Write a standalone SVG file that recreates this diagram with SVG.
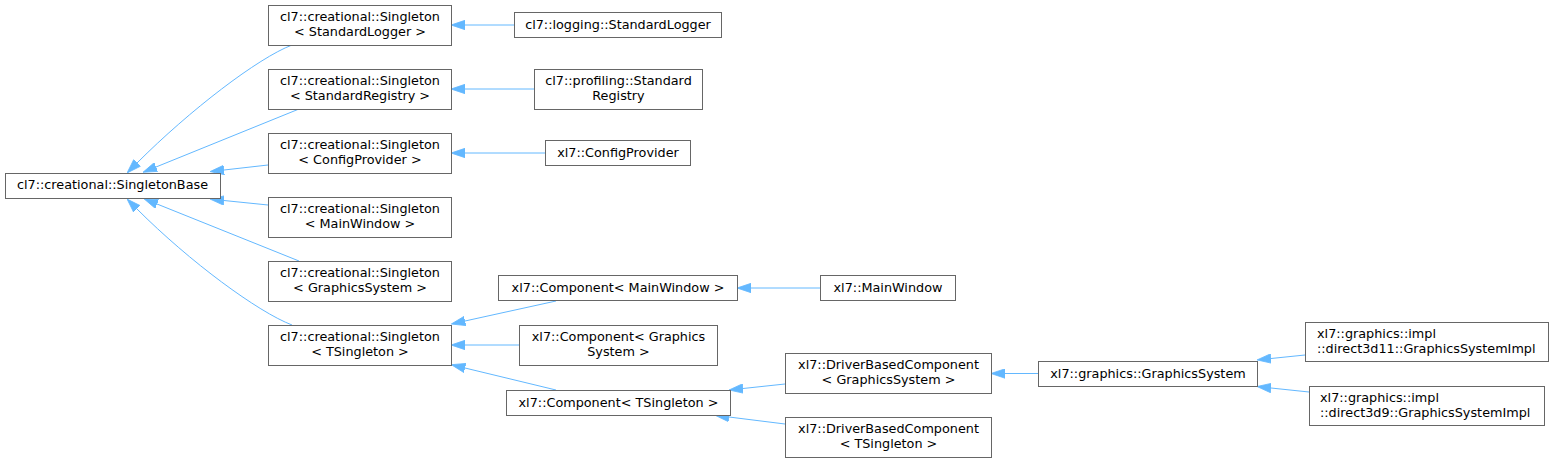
<svg xmlns="http://www.w3.org/2000/svg" width="1553" height="463" viewBox="0 0 1553 463">
<style>
.n rect{fill:#fff;stroke:#666666;stroke-width:1}
.n text{font-family:"DejaVu Sans",sans-serif;font-size:12.8px;fill:#000;text-anchor:middle}
.n text.l{text-anchor:start}
.e path{fill:none;stroke:#63b8ff;stroke-width:1}
</style>
<defs>
<marker id="ah" markerUnits="userSpaceOnUse" viewBox="0 0 14 10" refX="0" refY="5" markerWidth="14" markerHeight="10" orient="auto">
<path d="M0,0.3 L14,5 L0,9.7 z" fill="#63b8ff" stroke="#63b8ff" stroke-width="0.8"/>
</marker>
</defs>
<rect width="1553" height="463" fill="#fff"/>
<g class="e" id="edges">
<path marker-end="url(#ah)" d="M292,45 C258,58 190,110 137,163"/>
<path marker-end="url(#ah)" d="M299,109 L156,167"/>
<path marker-end="url(#ah)" d="M268,165 L224,170"/>
<path marker-end="url(#ah)" d="M268,205 L224,200.5"/>
<path marker-end="url(#ah)" d="M299,261 L157,204"/>
<path marker-end="url(#ah)" d="M292,325 C258,312 190,262 137,209"/>
<path marker-end="url(#ah)" d="M514,25 L465,25"/>
<path marker-end="url(#ah)" d="M534,89 L465,89"/>
<path marker-end="url(#ah)" d="M545,153 L465,153"/>
<path marker-end="url(#ah)" d="M556,301 L465,321"/>
<path marker-end="url(#ah)" d="M519,345 L465,345"/>
<path marker-end="url(#ah)" d="M556,390 L465,368"/>
<path marker-end="url(#ah)" d="M820,288 L751,288"/>
<path marker-end="url(#ah)" d="M785,384 L743,388.5"/>
<path marker-end="url(#ah)" d="M785,424 L729,417"/>
<path marker-end="url(#ah)" d="M1038,373.5 L1005,373.5"/>
<path marker-end="url(#ah)" d="M1305,355 L1271,358.5"/>
<path marker-end="url(#ah)" d="M1309,392 L1271,388"/>
</g>
<g class="n" id="singletonbase"><rect x="5.5" y="173.5" width="215" height="25"/><text x="112.5" y="189">cl7::creational::SingletonBase</text></g>
<g class="n" id="s_logger"><rect x="268.5" y="5.5" width="183" height="40"/><text x="360" y="21">cl7::creational::Singleton</text><text x="360" y="36">&lt; StandardLogger &gt;</text></g>
<g class="n" id="s_registry"><rect x="268.5" y="69.5" width="183" height="40"/><text x="360" y="85">cl7::creational::Singleton</text><text x="360" y="100">&lt; StandardRegistry &gt;</text></g>
<g class="n" id="s_config"><rect x="268.5" y="133.5" width="183" height="40"/><text x="360" y="149">cl7::creational::Singleton</text><text x="360" y="164">&lt; ConfigProvider &gt;</text></g>
<g class="n" id="s_mainwindow"><rect x="268.5" y="197.5" width="183" height="40"/><text x="360" y="213">cl7::creational::Singleton</text><text x="360" y="228">&lt; MainWindow &gt;</text></g>
<g class="n" id="s_graphics"><rect x="268.5" y="261.5" width="183" height="40"/><text x="360" y="277">cl7::creational::Singleton</text><text x="360" y="292">&lt; GraphicsSystem &gt;</text></g>
<g class="n" id="s_tsingleton"><rect x="268.5" y="325.5" width="183" height="40"/><text x="360" y="341">cl7::creational::Singleton</text><text x="360" y="356">&lt; TSingleton &gt;</text></g>
<g class="n" id="standardlogger"><rect x="514.5" y="12.5" width="207" height="25"/><text x="618" y="28.5">cl7::logging::StandardLogger</text></g>
<g class="n" id="standardregistry"><rect x="534.5" y="69.5" width="168" height="40"/><text x="618.5" y="85">cl7::profiling::Standard</text><text x="618.5" y="100">Registry</text></g>
<g class="n" id="configprovider"><rect x="545.5" y="140.5" width="145" height="25"/><text x="618" y="156.5">xl7::ConfigProvider</text></g>
<g class="n" id="comp_mainwindow"><rect x="498.5" y="275.5" width="239" height="25"/><text x="618" y="291.5">xl7::Component&lt; MainWindow &gt;</text></g>
<g class="n" id="mainwindow"><rect x="820.5" y="275.5" width="135" height="25"/><text x="888" y="291.5">xl7::MainWindow</text></g>
<g class="n" id="comp_graphics"><rect x="519.5" y="325.5" width="198" height="40"/><text x="618.5" y="341">xl7::Component&lt; Graphics</text><text x="618.5" y="356">System &gt;</text></g>
<g class="n" id="comp_tsingleton"><rect x="506.5" y="390.5" width="224" height="25"/><text x="618.5" y="406.5">xl7::Component&lt; TSingleton &gt;</text></g>
<g class="n" id="dbc_graphics"><rect x="785.5" y="353.5" width="206" height="40"/><text x="888.5" y="369">xl7::DriverBasedComponent</text><text x="888.5" y="384">&lt; GraphicsSystem &gt;</text></g>
<g class="n" id="dbc_tsingleton"><rect x="785.5" y="417.5" width="206" height="40"/><text x="888.5" y="433">xl7::DriverBasedComponent</text><text x="888.5" y="448">&lt; TSingleton &gt;</text></g>
<g class="n" id="graphicssystem"><rect x="1038.5" y="361.5" width="219" height="25"/><text x="1148" y="377.5">xl7::graphics::GraphicsSystem</text></g>
<g class="n" id="d3d11"><rect x="1305.5" y="322.5" width="243" height="39"/><text class="l" x="1317" y="338">xl7::graphics::impl</text><text class="l" x="1317" y="353">::direct3d11::GraphicsSystemImpl</text></g>
<g class="n" id="d3d9"><rect x="1309.5" y="386.5" width="235" height="39"/><text class="l" x="1320" y="402">xl7::graphics::impl</text><text class="l" x="1320" y="417">::direct3d9::GraphicsSystemImpl</text></g>
</svg>
